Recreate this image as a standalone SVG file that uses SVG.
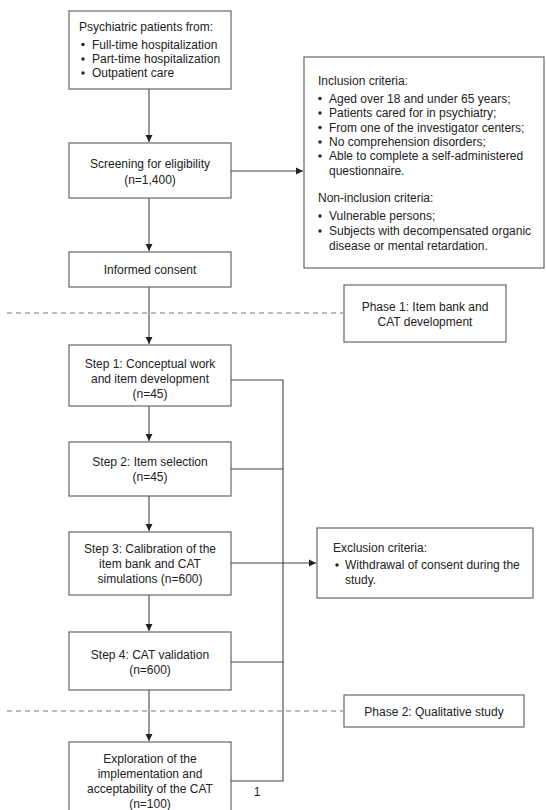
<svg xmlns="http://www.w3.org/2000/svg" width="546" height="810" viewBox="0 0 546 810">
<style>
.box{fill:#fff;stroke:#666;stroke-width:1.2}
.ln{fill:none;stroke:#444;stroke-width:1.1}
.dash{fill:none;stroke:#777;stroke-width:1.1;stroke-dasharray:5,4}
text{font-family:"Liberation Sans",Arial,sans-serif;font-size:12px;fill:#222}
.c{text-anchor:middle}
</style>
<defs>
<marker id="ah" markerWidth="8" markerHeight="8" refX="7" refY="4" orient="auto" markerUnits="userSpaceOnUse">
<path d="M0,0.5 L7,4 L0,7.5 Z" fill="#222"/>
</marker>
</defs>
<rect width="546" height="810" fill="#fff"/>
<g id="separators">
<line class="dash" x1="7" y1="313" x2="343" y2="313"/>
<line class="dash" x1="7" y1="711" x2="343" y2="711"/>
</g>
<g id="connectors">
<line class="ln" x1="149" y1="89" x2="149" y2="142" marker-end="url(#ah)"/>
<line class="ln" x1="231" y1="171" x2="303" y2="171" marker-end="url(#ah)"/>
<line class="ln" x1="149" y1="198" x2="149" y2="251" marker-end="url(#ah)"/>
<line class="ln" x1="149" y1="287" x2="149" y2="344" marker-end="url(#ah)"/>
<line class="ln" x1="149" y1="406" x2="149" y2="441" marker-end="url(#ah)"/>
<line class="ln" x1="149" y1="496" x2="149" y2="531" marker-end="url(#ah)"/>
<line class="ln" x1="149" y1="595" x2="149" y2="631" marker-end="url(#ah)"/>
<line class="ln" x1="149" y1="690" x2="149" y2="741" marker-end="url(#ah)"/>
<polyline class="ln" points="231,380 283,380 283,781 231,781"/>
<line class="ln" x1="231" y1="469" x2="283" y2="469"/>
<line class="ln" x1="231" y1="662" x2="283" y2="662"/>
<line class="ln" x1="231" y1="563" x2="316" y2="563" marker-end="url(#ah)"/>
</g>
<g id="patients">
<rect class="box" x="69" y="11" width="162" height="78"/>
<text x="79" y="31">Psychiatric patients from:</text>
<circle cx="83" cy="44.5" r="1.7" fill="#222"/><text x="92" y="48.5">Full-time hospitalization</text>
<circle cx="83" cy="59" r="1.7" fill="#222"/><text x="92" y="63">Part-time hospitalization</text>
<circle cx="83" cy="73" r="1.7" fill="#222"/><text x="92" y="77">Outpatient care</text>
</g>
<g id="screening">
<rect class="box" x="69" y="143" width="162" height="55"/>
<text class="c" x="150" y="168">Screening for eligibility</text>
<text class="c" x="150" y="184">(n=1,400)</text>
</g>
<g id="inclusion">
<rect class="box" x="304" y="57" width="240" height="211"/>
<text x="318" y="85">Inclusion criteria:</text>
<circle cx="320" cy="98.5" r="1.7" fill="#222"/><text x="329" y="102.5">Aged over 18 and under 65 years;</text>
<circle cx="320" cy="113" r="1.7" fill="#222"/><text x="329" y="117">Patients cared for in psychiatry;</text>
<circle cx="320" cy="127.5" r="1.7" fill="#222"/><text x="329" y="131.5">From one of the investigator centers;</text>
<circle cx="320" cy="142" r="1.7" fill="#222"/><text x="329" y="146">No comprehension disorders;</text>
<circle cx="320" cy="156" r="1.7" fill="#222"/><text x="329" y="160">Able to complete a self-administered</text>
<text x="329" y="174.5">questionnaire.</text>
<text x="318" y="202">Non-inclusion criteria:</text>
<circle cx="320" cy="216" r="1.7" fill="#222"/><text x="329" y="220">Vulnerable persons;</text>
<circle cx="320" cy="231" r="1.7" fill="#222"/><text x="329" y="235">Subjects with decompensated organic</text>
<text x="329" y="250">disease or mental retardation.</text>
</g>
<g id="consent">
<rect class="box" x="69" y="252" width="162" height="35"/>
<text class="c" x="150" y="274">Informed consent</text>
</g>
<g id="phase1">
<rect class="box" x="344" y="285" width="162" height="57"/>
<text class="c" x="425" y="311">Phase 1: Item bank and</text>
<text class="c" x="425" y="326">CAT development</text>
</g>
<g id="step1">
<rect class="box" x="69" y="345" width="162" height="61"/>
<text class="c" x="150" y="368">Step 1: Conceptual work</text>
<text class="c" x="150" y="383">and item development</text>
<text class="c" x="150" y="398">(n=45)</text>
</g>
<g id="step2">
<rect class="box" x="69" y="442" width="162" height="54"/>
<text class="c" x="150" y="466">Step 2: Item selection</text>
<text class="c" x="150" y="481">(n=45)</text>
</g>
<g id="step3">
<rect class="box" x="69" y="532" width="162" height="63"/>
<text class="c" x="150" y="553">Step 3: Calibration of the</text>
<text class="c" x="150" y="567.5">item bank and CAT</text>
<text class="c" x="150" y="583">simulations (n=600)</text>
</g>
<g id="exclusion">
<rect class="box" x="317" y="528" width="216" height="70"/>
<text x="333" y="552">Exclusion criteria:</text>
<circle cx="337" cy="565" r="1.7" fill="#222"/><text x="345" y="569">Withdrawal of consent during the</text>
<text x="345" y="584">study.</text>
</g>
<g id="step4">
<rect class="box" x="69" y="632" width="162" height="58"/>
<text class="c" x="150" y="659">Step 4: CAT validation</text>
<text class="c" x="150" y="674">(n=600)</text>
</g>
<g id="phase2">
<rect class="box" x="344" y="695" width="180" height="32"/>
<text class="c" x="434" y="715.5">Phase 2: Qualitative study</text>
</g>
<g id="exploration">
<rect class="box" x="69" y="742" width="162" height="75"/>
<text class="c" x="150" y="763">Exploration of the</text>
<text class="c" x="150" y="778">implementation and</text>
<text class="c" x="150" y="793">acceptability of the CAT</text>
<text class="c" x="150" y="808">(n=100)</text>
</g>
<text x="257" y="796" class="c">1</text>
</svg>
